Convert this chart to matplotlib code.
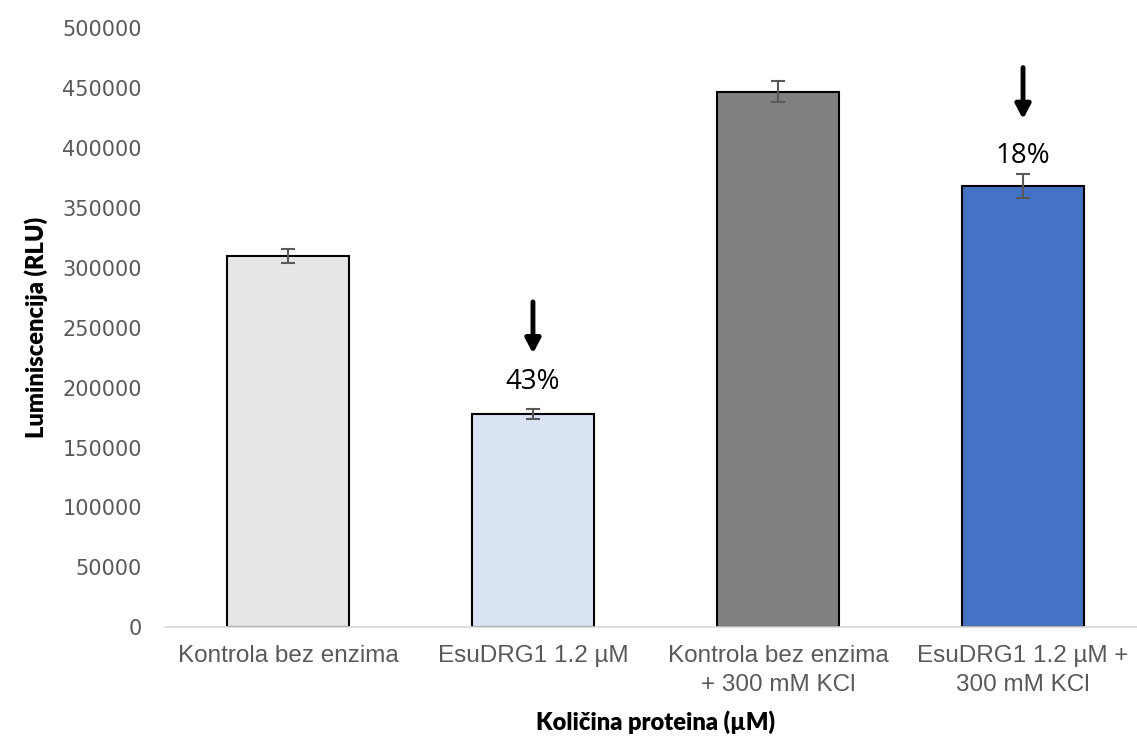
import matplotlib
matplotlib.use('Agg')
import matplotlib.pyplot as plt

categories = ['Kontrola bez enzima', 'EsuDRG1 1.2 µM',
              'Kontrola bez enzima\n+ 300 mM KCl', 'EsuDRG1 1.2 µM +\n300 mM KCl']
values = [310000, 178000, 447000, 368000]
errors = [6000, 4500, 9000, 10000]
colors = ['#e6e6e6', '#dae3f3', '#808080', '#4472c4']
# labels above the treated bars: (bar index, text, text offset above error bar)
notes = [(1, '43%', 22000), (3, '18%', 15500)]

fig = plt.figure(figsize=(11.37, 7.38), dpi=100)
ax = fig.add_axes([0.1455, 0.150, 0.862, 0.812])

x = range(len(categories))
ax.bar(x, values, width=0.5, color=colors, edgecolor='black', linewidth=1.5, zorder=2)
ax.errorbar(x, values, yerr=errors, fmt='none', ecolor='#595959', elinewidth=1.5,
            capsize=5, capthick=1.5, zorder=3)

for i, txt, off in notes:
    top = values[i] + errors[i]
    ax.annotate('', xy=(i, top + 46000), xytext=(i, top + 89000),
                arrowprops=dict(arrowstyle='-|>,head_width=0.45,head_length=0.85',
                                color='black', lw=3.5, shrinkA=0, shrinkB=0))
    ax.text(i, top + off, txt, ha='center', va='center', fontsize=20,
            family=['Open Sans', 'DejaVu Sans'])

ax.set_xlim(-0.5, 3.5)
ax.set_ylim(0, 500000)
ax.set_yticks(range(0, 500001, 50000))
ax.set_xticks(list(x))
ax.set_xticklabels(categories, fontsize=17.5, color='#595959',
                   family=['Liberation Sans', 'DejaVu Sans'], linespacing=1.4)
for lab in ax.get_yticklabels():
    lab.set_fontsize(15)
    lab.set_color('#595959')
    lab.set_family(['DejaVu Sans'])
ax.tick_params(axis='x', length=0, pad=13)
ax.tick_params(axis='y', length=0, pad=17)

for s in ['top', 'right', 'left']:
    ax.spines[s].set_visible(False)
ax.spines['bottom'].set_color('#d9d9d9')
ax.spines['bottom'].set_linewidth(1.2)

ax.set_ylabel('Luminiscencija (RLU)', fontsize=17, fontweight='heavy',
              family=['Lato', 'DejaVu Sans'], labelpad=10)
ax.set_xlabel('Količina proteina (µM)', fontsize=17, fontweight='heavy',
              family=['Lato', 'DejaVu Sans'], labelpad=10)

plt.savefig('out.png', dpi=100)
